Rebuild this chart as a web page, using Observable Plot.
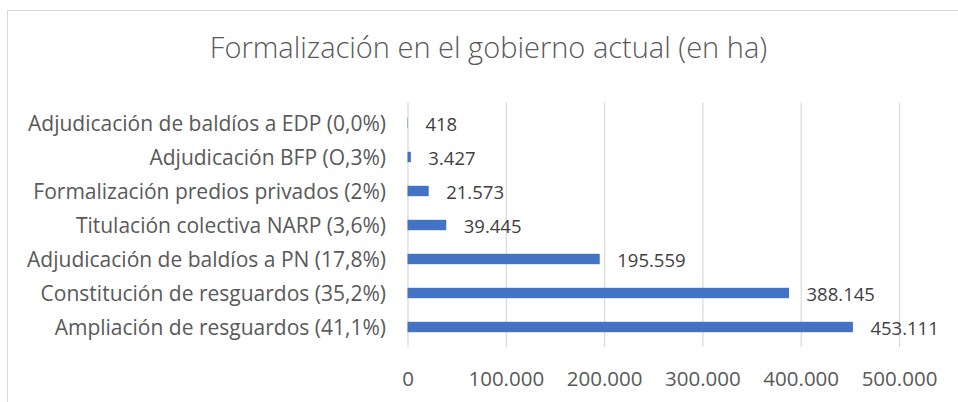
<!DOCTYPE html>
<html><head><meta charset="utf-8">
<script src="https://cdn.jsdelivr.net/npm/d3@7"></script>
<script src="https://cdn.jsdelivr.net/npm/@observablehq/plot@0.6"></script>
<style>
body{margin:0;background:#fff;width:958px;height:402px;overflow:hidden;position:relative;font-family:"Open Sans",Lato,sans-serif;}
#frame{position:absolute;left:7px;top:10px;width:1200px;height:600px;border:1px solid #d9d9d9;box-sizing:border-box;}
#title{position:absolute;left:9.5px;top:0;width:958px;height:92px;text-align:center;font-size:29px;line-height:29px;color:#595959;padding-top:31.5px;box-sizing:border-box;font-weight:300;white-space:nowrap;}
#chart{position:absolute;left:0;top:92px;}
</style></head>
<body>
<div id="frame"></div>
<div id="title">Formalización en el gobierno actual (en ha)</div>
<div id="chart"></div>
<script>
const categories = [
  "Adjudicación de baldíos a EDP (0,0%)",
  "Adjudicación BFP (O,3%)",
  "Formalización predios privados (2%)",
  "Titulación colectiva NARP (3,6%)",
  "Adjudicación de baldíos a PN (17,8%)",
  "Constitución de resguardos (35,2%)",
  "Ampliación de resguardos (41,1%)"
];
const values = [418, 3427, 21573, 39445, 195559, 388145, 453111];
const xTicks = [0, 100000, 200000, 300000, 400000, 500000];

const locale = d3.formatLocale({decimal: ",", thousands: ".", grouping: [3], currency: ["", ""]});
const fmt = locale.format(",d");
const data = categories.map((c, i) => ({category: c, value: values[i]}));

const chart = Plot.plot({
  width: 958,
  height: 310,
  marginLeft: 407.5,
  marginRight: 59,
  marginTop: 10.5,
  marginBottom: 55,
  style: {fontFamily: "'Open Sans', Lato, sans-serif", background: "transparent"},
  x: {domain: [0, 500000], label: null},
  y: {domain: categories, padding: 0, label: null},
  marks: [
    Plot.ruleX(xTicks, {stroke: "#d9d9d9", strokeWidth: 1.2}),
    Plot.barX(data, {x: "value", y: "category", fill: "#4472c4", insetTop: 11.8, insetBottom: 11.8}),
    Plot.text(data, {x: "value", y: "category", text: d => fmt(d.value), textAnchor: "start", dx: 17, dy: 1.5, fill: "#404040", fontSize: 18.5}),
    Plot.axisY({tickSize: 0, tickPadding: 22, fontSize: 21, dy: 1, color: "#595959", label: null}),
    Plot.axisX({ticks: xTicks, tickFormat: fmt, tickSize: 0, tickPadding: 23.5, fontSize: 20.5, color: "#595959", label: null})
  ]
});
document.getElementById("chart").appendChild(chart);
</script>
</body></html>
